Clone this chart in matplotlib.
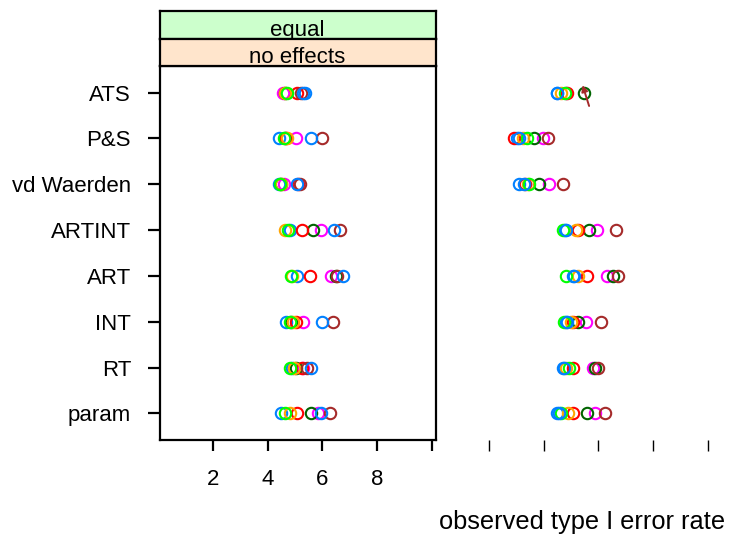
import numpy as np
import matplotlib
matplotlib.use('Agg')
import matplotlib.pyplot as plt

plt.rcParams['font.family'] = ['Liberation Sans', 'DejaVu Sans']

# methods, bottom to top
methods = ['param', 'RT', 'INT', 'ART', 'ARTINT', 'vd Waerden', 'P&S', 'ATS']
# lattice default superpose colours (8 groups, colours recycle)
group_colors = ['#0080ff', '#ff00ff', '#006400', '#ff0000',
                '#ffa500', '#00ff00', '#a52a2a', '#0080ff']

# left panel (equal / no effects): one row per method, one value per group
left_vals = [
    [4.47, 5.84, 5.57, 5.08, 4.80, 4.64, 6.26, 5.93],
    [4.89, 5.30, 5.04, 5.26, 4.95, 4.80, 5.44, 5.59],
    [4.68, 5.29, 4.85, 5.04, 4.92, 4.80, 6.38, 5.99],
    [5.08, 6.33, 6.51, 5.56, 4.90, 4.86, 6.55, 6.75],
    [4.80, 5.93, 5.65, 5.26, 4.62, 4.74, 6.66, 6.41],
    [4.41, 4.59, 4.50, 5.12, 4.48, 4.45, 5.17, 5.08],
    [4.43, 5.04, 4.65, 4.67, 4.71, 4.59, 6.00, 5.59],
    [5.35, 4.55, 4.64, 5.08, 4.62, 4.71, 5.20, 5.30],
]
# right panel (no strip, no frame in the original)
right_vals = [
    [4.47, 5.87, 5.59, 5.08, 4.90, 4.65, 6.23, 4.55],
    [4.69, 5.81, 5.87, 5.08, 4.81, 4.93, 5.99, 4.75],
    [4.81, 5.56, 5.24, 5.08, 4.99, 4.74, 6.08, 4.85],
    [5.08, 6.33, 6.52, 5.57, 5.26, 4.81, 6.73, 5.10],
    [4.79, 5.95, 5.67, 5.25, 5.18, 4.72, 6.65, 4.80],
    [3.11, 4.18, 3.84, 3.33, 3.42, 3.45, 4.70, 3.30],
    [3.02, 3.96, 3.63, 2.90, 3.23, 3.39, 4.16, 3.10],
    [4.48, 4.80, 5.46, 4.85, 4.64, 4.79, np.nan, 4.50],
]
# odd brown stroke next to ATS in the right panel
odd_stroke_from = (5.69, 7.65)
odd_stroke_to = (5.39, 8.22)

x_ticks = [2, 4, 6, 8, 10]
x_ticklabels = ['2', '4', '6', '8', '']

W, H = 731, 548
fig = plt.figure(figsize=(W / 100, H / 100), dpi=100)

def box(x0, y0, x1, y1):
    return [x0 / W, 1 - y1 / H, (x1 - x0) / W, (y1 - y0) / H]

ax1 = fig.add_axes(box(159.5, 66, 435.5, 440))
ax2 = fig.add_axes(box(435.5, 66, 711.5, 440))

def draw_points(ax, vals):
    y = np.arange(1, len(methods) + 1)
    arr = np.array(vals)
    for g, col in enumerate(group_colors):
        ax.plot(arr[:, g], y, linestyle='none', marker='o', ms=8.2,
                mfc='none', mec=col, mew=1.5, zorder=3 + g)

for ax, vals in [(ax1, left_vals), (ax2, right_vals)]:
    draw_points(ax, vals)
    ax.set_xlim(0.05, 10.13)
    ax.set_ylim(0.42, 8.58)
    ax.set_xticks(x_ticks)

ax1.set_xticklabels(x_ticklabels, fontsize=16)
ax1.set_yticks(np.arange(1, len(methods) + 1))
ax1.set_yticklabels(methods, fontsize=16)
ax1.tick_params(axis='x', direction='out', length=8, width=1.6, pad=13)
ax1.tick_params(axis='y', direction='out', length=8.5, width=1.6, pad=12)
for s in ax1.spines.values():
    s.set_linewidth(1.6)

ax2.set_xticklabels([])
ax2.set_yticks([])
ax2.tick_params(axis='x', direction='out', length=8, width=1.0)
for s in ax2.spines.values():
    s.set_visible(False)
ax2.patch.set_alpha(0)

ax2.annotate('', xy=odd_stroke_to, xytext=odd_stroke_from,
             arrowprops=dict(arrowstyle='-|>', color='#a52a2a', lw=1.4,
                             mutation_scale=9), zorder=20)

# strips
for (y0, y1, col, label) in [(10.5, 39, '#ccffcc', 'equal'),
                             (39, 66, '#ffe5cc', 'no effects')]:
    sax = fig.add_axes(box(159.5, y0, 435.5, y1))
    sax.set_facecolor(col)
    sax.set_xticks([])
    sax.set_yticks([])
    for s in sax.spines.values():
        s.set_linewidth(1.6)
    sax.text(0.5, 0.3, label, ha='center', va='center', fontsize=16,
             transform=sax.transAxes)

fig.text(582 / W, 1 - 522 / H, 'observed type I error rate',
         ha='center', va='center', fontsize=18.3)

fig.savefig('out.png', dpi=100)
